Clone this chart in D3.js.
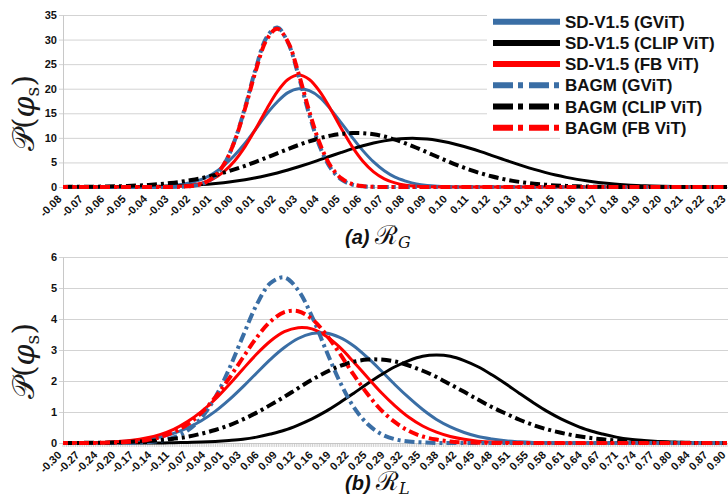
<!DOCTYPE html>
<html>
<head>
<meta charset="utf-8">
<script src="https://cdn.jsdelivr.net/npm/d3@7"></script>
<style>
  body { margin: 0; background: #fff; }
  svg { display: block; }
</style>
</head>
<body>
<div class="svgContainer"></div>
<script>
// ---------- panel (a): R_G ----------
let xA = [-0.08, -0.075, -0.07, -0.065, -0.06, -0.055, -0.05, -0.045, -0.04, -0.035, -0.03, -0.025, -0.02, -0.015, -0.01, -0.005,
  0, 0.005, 0.01, 0.015, 0.02, 0.025, 0.03, 0.035, 0.04, 0.045, 0.05, 0.055, 0.06, 0.065, 0.07, 0.075, 0.08, 0.085, 0.09, 0.095,
  0.1, 0.105, 0.11, 0.115, 0.12, 0.125, 0.13, 0.135, 0.14, 0.145, 0.15, 0.155, 0.16, 0.165, 0.17, 0.175, 0.18, 0.185, 0.19, 0.195,
  0.2, 0.205, 0.21, 0.215, 0.22, 0.225, 0.23];

let sdGvitA = [0, 0, 0, 0, 0, 0, 0, 0, 0.05, 0.1, 0.2, 0.5, 0.9, 1.6, 2.7, 4.3, 6.4, 8.9, 11.8, 14.8, 17.3, 19.2, 20.0, 19.6, 18.2,
  15.8, 13.0, 10.1, 7.4, 5.1, 3.3, 2.0, 1.2, 0.6, 0.3, 0.15, 0.07, 0, 0, 0, 0, 0, 0, 0, 0, 0, 0, 0, 0, 0, 0, 0, 0, 0, 0, 0, 0, 0,
  0, 0, 0, 0, 0];
let sdClipA = [0, 0, 0.01, 0.01, 0.02, 0.03, 0.04, 0.06, 0.09, 0.13, 0.18, 0.26, 0.36, 0.49, 0.66, 0.88, 1.15, 1.48, 1.87, 2.33,
  2.86, 3.46, 4.12, 4.82, 5.56, 6.30, 7.04, 7.75, 8.39, 8.95, 9.39, 9.70, 9.87, 9.89, 9.75, 9.46, 9.05, 8.51, 7.88, 7.19, 6.45,
  5.70, 4.96, 4.25, 3.59, 2.98, 2.43, 1.96, 1.55, 1.21, 0.93, 0.70, 0.52, 0.38, 0.28, 0.20, 0.14, 0.09, 0.06, 0.04, 0.03, 0.02, 0.01];
let sdFbA = [0, 0, 0, 0, 0, 0, 0, 0, 0, 0.02, 0.06, 0.16, 0.38, 0.84, 1.67, 3.09, 5.25, 8.22, 11.87, 15.79, 19.36, 21.89, 22.8,
  21.89, 19.36, 15.79, 11.87, 8.22, 5.25, 3.09, 1.67, 0.84, 0.38, 0.16, 0.06, 0.02, 0, 0, 0, 0, 0, 0, 0, 0, 0, 0, 0, 0, 0, 0, 0,
  0, 0, 0, 0, 0, 0, 0, 0, 0, 0, 0, 0];
let bagmGvitA = [0, 0, 0, 0, 0, 0, 0, 0, 0, 0, 0, 0.05, 0.19, 0.64, 1.83, 4.47, 9.25, 16.22, 24.12, 30.4, 32.47, 29.41, 22.57,
  14.69, 8.11, 3.79, 1.50, 0.50, 0.14, 0.03, 0, 0, 0, 0, 0, 0, 0, 0, 0, 0, 0, 0, 0, 0, 0, 0, 0, 0, 0, 0, 0, 0, 0, 0, 0, 0, 0, 0,
  0, 0, 0, 0, 0];
let bagmClipA = [0.02, 0.03, 0.04, 0.06, 0.10, 0.14, 0.21, 0.30, 0.42, 0.59, 0.80, 1.07, 1.41, 1.83, 2.33, 2.91, 3.57, 4.31, 5.12,
  5.97, 6.85, 7.72, 8.55, 9.30, 9.95, 10.46, 10.82, 10.98, 10.96, 10.72, 10.27, 9.64, 8.86, 7.99, 7.05, 6.10, 5.17, 4.30, 3.49,
  2.79, 2.18, 1.67, 1.25, 0.92, 0.66, 0.47, 0.32, 0.22, 0.14, 0.09, 0.06, 0.04, 0.02, 0.01, 0, 0, 0, 0, 0, 0, 0, 0, 0];
let bagmFbA = [0, 0, 0, 0, 0, 0, 0, 0, 0, 0, 0, 0.05, 0.20, 0.67, 1.88, 4.50, 9.18, 15.97, 23.68, 29.91, 32.2, 29.53, 23.08,
  15.37, 8.73, 4.22, 1.74, 0.61, 0.18, 0.05, 0, 0, 0, 0, 0, 0, 0, 0, 0, 0, 0, 0, 0, 0, 0, 0, 0, 0, 0, 0, 0, 0, 0, 0, 0, 0, 0, 0,
  0, 0, 0, 0, 0];

let xLabelsA = ["-0.08", "-0.07", "-0.06", "-0.05", "-0.04", "-0.03", "-0.02", "-0.01", "0.00", "0.01", "0.02", "0.03", "0.04",
  "0.05", "0.06", "0.07", "0.08", "0.09", "0.10", "0.11", "0.12", "0.13", "0.14", "0.15", "0.16", "0.17", "0.18", "0.19", "0.20",
  "0.21", "0.22", "0.23"];
let yTicksA = [0, 5, 10, 15, 20, 25, 30, 35];

// ---------- panel (b): R_L ----------
let xB = [-0.3, -0.275, -0.25, -0.225, -0.2, -0.175, -0.15, -0.125, -0.1, -0.075, -0.05, -0.025, 0, 0.025, 0.05, 0.075, 0.1,
  0.125, 0.15, 0.175, 0.2, 0.225, 0.25, 0.275, 0.3, 0.325, 0.35, 0.375, 0.4, 0.425, 0.45, 0.475, 0.5, 0.525, 0.55, 0.575, 0.6,
  0.625, 0.65, 0.675, 0.7, 0.725, 0.75, 0.775, 0.8, 0.825, 0.85, 0.875, 0.9];

let sdGvitB = [0, 0, 0.01, 0.02, 0.04, 0.07, 0.11, 0.19, 0.31, 0.49, 0.72, 1.02, 1.39, 1.81, 2.26, 2.70, 3.08, 3.37, 3.53, 3.55,
  3.41, 3.14, 2.76, 2.33, 1.88, 1.46, 1.08, 0.76, 0.52, 0.34, 0.21, 0.13, 0.07, 0.04, 0.02, 0.01, 0, 0, 0, 0, 0, 0, 0, 0, 0, 0,
  0, 0, 0];
let sdClipB = [0, 0, 0, 0, 0, 0, 0, 0, 0.01, 0.02, 0.03, 0.05, 0.08, 0.12, 0.19, 0.29, 0.41, 0.58, 0.78, 1.02, 1.30, 1.60, 1.91,
  2.20, 2.46, 2.66, 2.80, 2.84, 2.80, 2.66, 2.46, 2.20, 1.91, 1.60, 1.30, 1.02, 0.78, 0.58, 0.41, 0.29, 0.19, 0.12, 0.08, 0.05,
  0.03, 0.02, 0.01, 0, 0];
let sdFbB = [0, 0.01, 0.01, 0.02, 0.05, 0.09, 0.16, 0.27, 0.44, 0.69, 1.01, 1.41, 1.88, 2.38, 2.87, 3.29, 3.59, 3.72, 3.68, 3.45,
  3.09, 2.62, 2.12, 1.63, 1.20, 0.83, 0.55, 0.35, 0.21, 0.12, 0.06, 0.03, 0.02, 0.01, 0, 0, 0, 0, 0, 0, 0, 0, 0, 0, 0, 0, 0, 0, 0];
let bagmGvitB = [0, 0, 0, 0, 0, 0.01, 0.02, 0.07, 0.18, 0.40, 0.81, 1.47, 2.38, 3.44, 4.46, 5.16, 5.34, 4.93, 4.08, 3.01, 1.99,
  1.17, 0.62, 0.29, 0.12, 0.05, 0.02, 0, 0, 0, 0, 0, 0, 0, 0, 0, 0, 0, 0, 0, 0, 0, 0, 0, 0, 0, 0, 0, 0];
let bagmClipB = [0, 0, 0.01, 0.01, 0.02, 0.04, 0.06, 0.09, 0.14, 0.20, 0.30, 0.42, 0.57, 0.76, 0.98, 1.23, 1.49, 1.77, 2.04, 2.28,
  2.48, 2.62, 2.69, 2.69, 2.63, 2.50, 2.33, 2.13, 1.89, 1.65, 1.40, 1.16, 0.95, 0.75, 0.58, 0.44, 0.33, 0.24, 0.17, 0.12, 0.08,
  0.05, 0.03, 0.02, 0.01, 0.01, 0, 0, 0];
let bagmFbB = [0, 0, 0, 0.01, 0.02, 0.04, 0.09, 0.19, 0.35, 0.60, 0.97, 1.47, 2.08, 2.75, 3.40, 3.92, 4.22, 4.25, 4.00, 3.51,
  2.89, 2.21, 1.59, 1.06, 0.67, 0.39, 0.21, 0.11, 0.05, 0.02, 0.01, 0, 0, 0, 0, 0, 0, 0, 0, 0, 0, 0, 0, 0, 0, 0, 0, 0, 0];

let xLabelsB = ["-0.30", "-0.27", "-0.24", "-0.20", "-0.17", "-0.14", "-0.11", "-0.07", "-0.04", "-0.01", "0.03", "0.06", "0.09",
  "0.12", "0.16", "0.19", "0.22", "0.25", "0.29", "0.32", "0.35", "0.38", "0.42", "0.45", "0.48", "0.51", "0.55", "0.58", "0.61",
  "0.64", "0.67", "0.71", "0.74", "0.77", "0.80", "0.84", "0.87", "0.90"];
let yTicksB = [0, 1, 2, 3, 4, 5, 6];

let seriesNames = ["SD-V1.5 (GViT)", "SD-V1.5 (CLIP ViT)", "SD-V1.5 (FB ViT)", "BAGM (GViT)", "BAGM (CLIP ViT)", "BAGM (FB ViT)"];

let blue = "#3a6ea5",
  red = "#ff0000",
  black = "#000000";
let styles = [
  { color: blue, dash: null, offset: 0 },
  { color: black, dash: null, offset: 0 },
  { color: red, dash: null, offset: 0 },
  { color: blue, dash: "10,4,3,4", offset: 0 },
  { color: black, dash: "10,4,3,4", offset: 0 },
  { color: red, dash: "10,4,3,4", offset: 5 }
];

let width = 728,
  height = 500,
  plotLeft = 63,
  plotRight = 727;

let svg = d3
  .select(".svgContainer")
  .append("svg")
  .attr("width", width)
  .attr("height", height)
  .style("font-family", "'Liberation Sans', Arial, sans-serif");

function drawPanel(p) {
  let g = svg.append("g");

  let x = d3.scaleLinear().domain(p.xDomain).range([plotLeft, plotRight]);
  let y = d3.scaleLinear().domain([0, d3.max(p.yTicks)]).range([p.bottom, p.top]);

  // horizontal gridlines
  let grid = d3
    .axisLeft(y)
    .tickValues(p.yTicks)
    .tickSize(-(width - plotLeft))
    .tickFormat("");
  g.append("g")
    .attr("transform", "translate(" + plotLeft + ",0)")
    .call(grid)
    .call(s => s.select(".domain").remove())
    .call(s => s.selectAll("line").attr("stroke", "#d3d3d3").attr("x1", -4));

  // y axis labels
  let yAxis = d3.axisLeft(y).tickValues(p.yTicks).tickSize(0).tickPadding(6).tickFormat(d3.format("d"));
  g.append("g")
    .attr("transform", "translate(" + plotLeft + ",0)")
    .call(yAxis)
    .call(s => s.select(".domain").attr("stroke", "#c8c8c8"))
    .call(s =>
      s.selectAll("text")
        .attr("font-size", 11)
        .attr("font-weight", "bold")
        .attr("font-family", "'Liberation Sans', Arial, sans-serif")
        .attr("fill", "#111")
    );

  // category style x axis
  let xCat = d3.scalePoint().domain(p.labels).range([plotLeft, plotRight]);
  let xAxis = d3.axisBottom(xCat).tickSize(0);
  g.append("g")
    .attr("transform", "translate(0," + p.bottom + ")")
    .call(xAxis)
    .call(s => s.select(".domain").attr("stroke", "#c8c8c8"))
    .call(s =>
      s.selectAll("text")
        .attr("font-size", 11)
        .attr("font-weight", "bold")
        .attr("font-family", "'Liberation Sans', Arial, sans-serif")
        .attr("fill", "#111")
        .attr("text-anchor", "end")
        .attr("y", 0)
        .attr("dy", "0.35em")
        .attr("transform", "translate(-4,10) rotate(-45)")
    );

  if (p.minorTicks) {
    g.append("g")
      .selectAll("line")
      .data(d3.range(0, p.minorTicks + 1))
      .enter()
      .append("line")
      .attr("x1", i => plotLeft + (i * (plotRight - plotLeft)) / p.minorTicks)
      .attr("x2", i => plotLeft + (i * (plotRight - plotLeft)) / p.minorTicks)
      .attr("y1", p.bottom)
      .attr("y2", p.bottom + 4)
      .attr("stroke", "#c4c4c4")
      .attr("stroke-width", 0.8);
  }

  if (p.legend) drawLegend();

  let line = d3
    .line()
    .x((d, i) => x(p.xs[i]))
    .y(d => y(d))
    .curve(d3.curveCatmullRom.alpha(0.5));

  p.series.forEach((vals, k) => {
    let st = styles[k];
    g.append("path")
      .datum(vals)
      .attr("d", line)
      .attr("fill", "none")
      .attr("stroke", st.color)
      .attr("stroke-width", st.dash ? 4 : 3)
      .attr("stroke-dasharray", st.dash)
      .attr("stroke-dashoffset", st.offset)
      .attr("stroke-linejoin", "round");
  });
}

function drawLegend() {
  let lg = svg.append("g");
  lg.append("rect").attr("x", 487).attr("y", 0).attr("width", 241).attr("height", 131).attr("fill", "#fff");
  lg.append("rect").attr("x", 560).attr("y", 0).attr("width", 168).attr("height", 142).attr("fill", "#fff");

  seriesNames.forEach((name, k) => {
    let cy = 21.7 + k * 21.2;
    let st = styles[k];
    lg.append("line")
      .attr("x1", 493)
      .attr("x2", 560)
      .attr("y1", cy)
      .attr("y2", cy)
      .attr("stroke", st.color)
      .attr("stroke-width", 6)
      .attr("stroke-dasharray", st.dash ? "20,5,5,6" : null);
    lg.append("text")
      .attr("x", 565)
      .attr("y", cy + 6)
      .attr("font-size", 17)
      .attr("font-weight", "bold")
      .attr("fill", "#111")
      .text(name);
  });
}

function yTitle(cy) {
  let t = svg
    .append("text")
    .attr("transform", "translate(34," + cy + ") rotate(-90)")
    .attr("text-anchor", "middle")
    .attr("font-family", "'DejaVu Serif', serif")
    .attr("font-size", 30)
    .attr("fill", "#1a1a1a");
  t.append("tspan").text("\u{1D4AB}(");
  t.append("tspan").attr("font-style", "italic").text("\u03C6");
  t.append("tspan").attr("font-size", 19).attr("dy", 5).text("s");
  t.append("tspan").attr("dy", -5).text(")");
}

function caption(letter, sub, baseY) {
  let t = svg.append("text").attr("x", 345).attr("y", baseY).attr("fill", "#111");
  t.append("tspan")
    .attr("font-family", "'Liberation Sans', Arial, sans-serif")
    .attr("font-weight", "bold")
    .attr("font-style", "italic")
    .attr("font-size", 20)
    .text("(" + letter + ") ");
  t.append("tspan").attr("font-family", "'DejaVu Serif', serif").attr("font-size", 26).text("\u211B");
  t.append("tspan")
    .attr("font-family", "'DejaVu Serif', serif")
    .attr("font-style", "italic")
    .attr("font-size", 16)
    .attr("dy", 4)
    .text(sub);
}

drawPanel({
  xs: xA,
  xDomain: [-0.08, 0.23],
  series: [sdGvitA, sdClipA, sdFbA, bagmGvitA, bagmClipA, bagmFbA],
  labels: xLabelsA,
  yTicks: yTicksA,
  top: 15,
  bottom: 187,
  legend: true
});

drawPanel({
  xs: xB,
  xDomain: [-0.3, 0.9],
  series: [sdGvitB, sdClipB, sdFbB, bagmGvitB, bagmClipB, bagmFbB],
  labels: xLabelsB,
  yTicks: yTicksB,
  top: 257,
  bottom: 443,
  minorTicks: 370
});

yTitle(113);
yTitle(361);
caption("a", "G", 244);
caption("b", "L", 490);
</script>
</body>
</html>
